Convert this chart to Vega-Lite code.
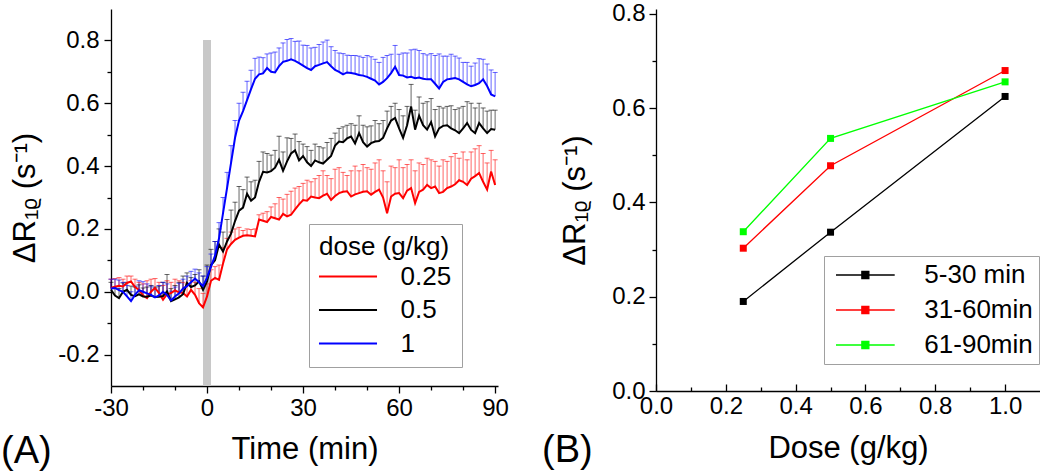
{
"$schema":"https://vega.github.io/schema/vega-lite/v6.json",
"autosize":{"type":"pad"},
"padding":{"left":1,"top":1,"right":0,"bottom":0},
"background":"white",
"bounds":"flush",
"spacing":158,
"resolve":{"scale":{"color":"independent"},"legend":{"color":"independent"}},
"config":{
 "font":"Liberation Sans",
 "view":{"stroke":null},
 "axis":{"labelFont":"Liberation Sans","titleFont":"Liberation Sans","labelFontSize":24,"titleFontSize":31,"titleFontWeight":"normal","labelColor":"black","titleColor":"black","domainColor":"black","tickColor":"black","domainWidth":1.3,"tickWidth":1.3,"grid":false,"labelFlush":false,"labelOverlap":false},
 "legend":{"labelFont":"Liberation Sans","titleFont":"Liberation Sans","labelFontSize":26,"titleFontSize":26,"titleFontWeight":"normal","labelColor":"black","titleColor":"black","strokeColor":"#a0a0a0","fillColor":"white","symbolOpacity":1}
},
"datasets":{
"ts":[
{"t":-30,"dose":"0.25","v":0.012,"hi":0.040},{"t":-28.75,"dose":"0.25","v":0.016,"hi":0.042},{"t":-27.5,"dose":"0.25","v":0.019,"hi":0.045},{"t":-26.25,"dose":"0.25","v":0.017,"hi":0.040},{"t":-25,"dose":"0.25","v":0.028,"hi":0.050},{"t":-23.75,"dose":"0.25","v":0.033,"hi":0.050},{"t":-22.5,"dose":"0.25","v":0.015,"hi":0.040},{"t":-21.25,"dose":"0.25","v":0.006,"hi":0.030},{"t":-20,"dose":"0.25","v":-0.012,"hi":0.025},{"t":-18.75,"dose":"0.25","v":-0.020,"hi":0.035},{"t":-17.5,"dose":"0.25","v":0.000,"hi":0.040},{"t":-16.25,"dose":"0.25","v":0.012,"hi":0.042},{"t":-15,"dose":"0.25","v":-0.004,"hi":0.030},{"t":-13.75,"dose":"0.25","v":-0.025,"hi":0.020},{"t":-12.5,"dose":"0.25","v":-0.008,"hi":0.035},{"t":-11.25,"dose":"0.25","v":-0.004,"hi":0.030},{"t":-10,"dose":"0.25","v":0.004,"hi":0.040},{"t":-8.75,"dose":"0.25","v":-0.002,"hi":0.035},{"t":-7.5,"dose":"0.25","v":-0.004,"hi":0.030},{"t":-6.25,"dose":"0.25","v":-0.015,"hi":0.025},{"t":-5,"dose":"0.25","v":0.006,"hi":0.035},{"t":-3.75,"dose":"0.25","v":-0.010,"hi":0.030},{"t":-2.5,"dose":"0.25","v":-0.036,"hi":0.010},{"t":-1.25,"dose":"0.25","v":-0.050,"hi":-0.005},{"t":0,"dose":"0.25","v":-0.015,"hi":0.025},{"t":1.25,"dose":"0.25","v":0.035,"hi":0.070},{"t":2.5,"dose":"0.25","v":0.044,"hi":0.080},{"t":3.75,"dose":"0.25","v":0.038,"hi":0.085},{"t":5,"dose":"0.25","v":0.090,"hi":0.140},{"t":6.25,"dose":"0.25","v":0.135,"hi":0.170},{"t":7.5,"dose":"0.25","v":0.152,"hi":0.190},{"t":8.75,"dose":"0.25","v":0.165,"hi":0.200},{"t":10,"dose":"0.25","v":0.172,"hi":0.205},{"t":11.25,"dose":"0.25","v":0.178,"hi":0.195},{"t":12.5,"dose":"0.25","v":0.180,"hi":0.200},{"t":13.75,"dose":"0.25","v":0.178,"hi":0.198},{"t":15,"dose":"0.25","v":0.176,"hi":0.200},{"t":16.25,"dose":"0.25","v":0.230,"hi":0.245},{"t":17.5,"dose":"0.25","v":0.226,"hi":0.250},{"t":18.75,"dose":"0.25","v":0.222,"hi":0.255},{"t":20,"dose":"0.25","v":0.238,"hi":0.270},{"t":21.25,"dose":"0.25","v":0.234,"hi":0.280},{"t":22.5,"dose":"0.25","v":0.230,"hi":0.300},{"t":23.75,"dose":"0.25","v":0.248,"hi":0.295},{"t":25,"dose":"0.25","v":0.240,"hi":0.310},{"t":26.25,"dose":"0.25","v":0.245,"hi":0.320},{"t":27.5,"dose":"0.25","v":0.262,"hi":0.330},{"t":28.75,"dose":"0.25","v":0.278,"hi":0.335},{"t":30,"dose":"0.25","v":0.292,"hi":0.345},{"t":31.25,"dose":"0.25","v":0.290,"hi":0.355},{"t":32.5,"dose":"0.25","v":0.303,"hi":0.350},{"t":33.75,"dose":"0.25","v":0.300,"hi":0.360},{"t":35,"dose":"0.25","v":0.298,"hi":0.370},{"t":36.25,"dose":"0.25","v":0.306,"hi":0.385},{"t":37.5,"dose":"0.25","v":0.312,"hi":0.370},{"t":38.75,"dose":"0.25","v":0.292,"hi":0.360},{"t":40,"dose":"0.25","v":0.305,"hi":0.390},{"t":41.25,"dose":"0.25","v":0.314,"hi":0.395},{"t":42.5,"dose":"0.25","v":0.318,"hi":0.380},{"t":43.75,"dose":"0.25","v":0.320,"hi":0.370},{"t":45,"dose":"0.25","v":0.303,"hi":0.385},{"t":46.25,"dose":"0.25","v":0.310,"hi":0.400},{"t":47.5,"dose":"0.25","v":0.314,"hi":0.385},{"t":48.75,"dose":"0.25","v":0.318,"hi":0.405},{"t":50,"dose":"0.25","v":0.320,"hi":0.395},{"t":51.25,"dose":"0.25","v":0.309,"hi":0.390},{"t":52.5,"dose":"0.25","v":0.318,"hi":0.410},{"t":53.75,"dose":"0.25","v":0.325,"hi":0.420},{"t":55,"dose":"0.25","v":0.300,"hi":0.385},{"t":56.25,"dose":"0.25","v":0.250,"hi":0.350},{"t":57.5,"dose":"0.25","v":0.303,"hi":0.400},{"t":58.75,"dose":"0.25","v":0.312,"hi":0.395},{"t":60,"dose":"0.25","v":0.314,"hi":0.420},{"t":61.25,"dose":"0.25","v":0.298,"hi":0.395},{"t":62.5,"dose":"0.25","v":0.322,"hi":0.405},{"t":63.75,"dose":"0.25","v":0.330,"hi":0.420},{"t":65,"dose":"0.25","v":0.282,"hi":0.385},{"t":66.25,"dose":"0.25","v":0.318,"hi":0.410},{"t":67.5,"dose":"0.25","v":0.325,"hi":0.405},{"t":68.75,"dose":"0.25","v":0.340,"hi":0.425},{"t":70,"dose":"0.25","v":0.330,"hi":0.420},{"t":71.25,"dose":"0.25","v":0.335,"hi":0.415},{"t":72.5,"dose":"0.25","v":0.314,"hi":0.400},{"t":73.75,"dose":"0.25","v":0.318,"hi":0.420},{"t":75,"dose":"0.25","v":0.330,"hi":0.415},{"t":76.25,"dose":"0.25","v":0.335,"hi":0.430},{"t":77.5,"dose":"0.25","v":0.342,"hi":0.440},{"t":78.75,"dose":"0.25","v":0.355,"hi":0.425},{"t":80,"dose":"0.25","v":0.350,"hi":0.445},{"t":81.25,"dose":"0.25","v":0.340,"hi":0.420},{"t":82.5,"dose":"0.25","v":0.360,"hi":0.445},{"t":83.75,"dose":"0.25","v":0.368,"hi":0.455},{"t":85,"dose":"0.25","v":0.378,"hi":0.465},{"t":86.25,"dose":"0.25","v":0.350,"hi":0.440},{"t":87.5,"dose":"0.25","v":0.325,"hi":0.410},{"t":88.75,"dose":"0.25","v":0.383,"hi":0.450},{"t":90,"dose":"0.25","v":0.340,"hi":0.420},
{"t":-30,"dose":"0.5","v":0.006,"hi":0.030},{"t":-28.75,"dose":"0.5","v":-0.012,"hi":0.015},{"t":-27.5,"dose":"0.5","v":-0.020,"hi":0.010},{"t":-26.25,"dose":"0.5","v":0.000,"hi":0.028},{"t":-25,"dose":"0.5","v":0.006,"hi":0.030},{"t":-23.75,"dose":"0.5","v":-0.010,"hi":0.018},{"t":-22.5,"dose":"0.5","v":-0.014,"hi":0.015},{"t":-21.25,"dose":"0.5","v":-0.008,"hi":0.022},{"t":-20,"dose":"0.5","v":-0.015,"hi":0.012},{"t":-18.75,"dose":"0.5","v":-0.016,"hi":0.015},{"t":-17.5,"dose":"0.5","v":-0.012,"hi":0.020},{"t":-16.25,"dose":"0.5","v":-0.017,"hi":0.015},{"t":-15,"dose":"0.5","v":-0.016,"hi":0.018},{"t":-13.75,"dose":"0.5","v":-0.014,"hi":0.030},{"t":-12.5,"dose":"0.5","v":0.001,"hi":0.055},{"t":-11.25,"dose":"0.5","v":-0.030,"hi":0.010},{"t":-10,"dose":"0.5","v":-0.024,"hi":0.020},{"t":-8.75,"dose":"0.5","v":-0.018,"hi":0.030},{"t":-7.5,"dose":"0.5","v":-0.008,"hi":0.050},{"t":-6.25,"dose":"0.5","v":0.028,"hi":0.060},{"t":-5,"dose":"0.5","v":0.015,"hi":0.045},{"t":-3.75,"dose":"0.5","v":0.020,"hi":0.055},{"t":-2.5,"dose":"0.5","v":0.033,"hi":0.070},{"t":-1.25,"dose":"0.5","v":0.006,"hi":0.050},{"t":0,"dose":"0.5","v":0.033,"hi":0.085},{"t":1.25,"dose":"0.5","v":0.085,"hi":0.135},{"t":2.5,"dose":"0.5","v":0.100,"hi":0.160},{"t":3.75,"dose":"0.5","v":0.150,"hi":0.200},{"t":5,"dose":"0.5","v":0.128,"hi":0.190},{"t":6.25,"dose":"0.5","v":0.160,"hi":0.230},{"t":7.5,"dose":"0.5","v":0.185,"hi":0.260},{"t":8.75,"dose":"0.5","v":0.225,"hi":0.285},{"t":10,"dose":"0.5","v":0.258,"hi":0.335},{"t":11.25,"dose":"0.5","v":0.268,"hi":0.325},{"t":12.5,"dose":"0.5","v":0.312,"hi":0.365},{"t":13.75,"dose":"0.5","v":0.290,"hi":0.350},{"t":15,"dose":"0.5","v":0.300,"hi":0.355},{"t":16.25,"dose":"0.5","v":0.350,"hi":0.415},{"t":17.5,"dose":"0.5","v":0.382,"hi":0.445},{"t":18.75,"dose":"0.5","v":0.380,"hi":0.440},{"t":20,"dose":"0.5","v":0.384,"hi":0.435},{"t":21.25,"dose":"0.5","v":0.395,"hi":0.450},{"t":22.5,"dose":"0.5","v":0.420,"hi":0.495},{"t":23.75,"dose":"0.5","v":0.385,"hi":0.445},{"t":25,"dose":"0.5","v":0.415,"hi":0.490},{"t":26.25,"dose":"0.5","v":0.440,"hi":0.488},{"t":27.5,"dose":"0.5","v":0.450,"hi":0.502},{"t":28.75,"dose":"0.5","v":0.418,"hi":0.478},{"t":30,"dose":"0.5","v":0.432,"hi":0.470},{"t":31.25,"dose":"0.5","v":0.412,"hi":0.462},{"t":32.5,"dose":"0.5","v":0.400,"hi":0.450},{"t":33.75,"dose":"0.5","v":0.418,"hi":0.470},{"t":35,"dose":"0.5","v":0.412,"hi":0.462},{"t":36.25,"dose":"0.5","v":0.408,"hi":0.458},{"t":37.5,"dose":"0.5","v":0.420,"hi":0.475},{"t":38.75,"dose":"0.5","v":0.432,"hi":0.488},{"t":40,"dose":"0.5","v":0.465,"hi":0.505},{"t":41.25,"dose":"0.5","v":0.478,"hi":0.520},{"t":42.5,"dose":"0.5","v":0.476,"hi":0.525},{"t":43.75,"dose":"0.5","v":0.488,"hi":0.530},{"t":45,"dose":"0.5","v":0.494,"hi":0.535},{"t":46.25,"dose":"0.5","v":0.472,"hi":0.530},{"t":47.5,"dose":"0.5","v":0.505,"hi":0.560},{"t":48.75,"dose":"0.5","v":0.476,"hi":0.530},{"t":50,"dose":"0.5","v":0.462,"hi":0.525},{"t":51.25,"dose":"0.5","v":0.473,"hi":0.528},{"t":52.5,"dose":"0.5","v":0.478,"hi":0.545},{"t":53.75,"dose":"0.5","v":0.480,"hi":0.535},{"t":55,"dose":"0.5","v":0.490,"hi":0.545},{"t":56.25,"dose":"0.5","v":0.520,"hi":0.575},{"t":57.5,"dose":"0.5","v":0.545,"hi":0.590},{"t":58.75,"dose":"0.5","v":0.553,"hi":0.600},{"t":60,"dose":"0.5","v":0.520,"hi":0.580},{"t":61.25,"dose":"0.5","v":0.490,"hi":0.560},{"t":62.5,"dose":"0.5","v":0.530,"hi":0.590},{"t":63.75,"dose":"0.5","v":0.590,"hi":0.660},{"t":65,"dose":"0.5","v":0.516,"hi":0.578},{"t":66.25,"dose":"0.5","v":0.560,"hi":0.620},{"t":67.5,"dose":"0.5","v":0.530,"hi":0.600},{"t":68.75,"dose":"0.5","v":0.516,"hi":0.605},{"t":70,"dose":"0.5","v":0.540,"hi":0.615},{"t":71.25,"dose":"0.5","v":0.494,"hi":0.580},{"t":72.5,"dose":"0.5","v":0.520,"hi":0.590},{"t":73.75,"dose":"0.5","v":0.528,"hi":0.585},{"t":75,"dose":"0.5","v":0.530,"hi":0.590},{"t":76.25,"dose":"0.5","v":0.520,"hi":0.592},{"t":77.5,"dose":"0.5","v":0.514,"hi":0.580},{"t":78.75,"dose":"0.5","v":0.505,"hi":0.585},{"t":80,"dose":"0.5","v":0.520,"hi":0.590},{"t":81.25,"dose":"0.5","v":0.537,"hi":0.605},{"t":82.5,"dose":"0.5","v":0.515,"hi":0.600},{"t":83.75,"dose":"0.5","v":0.505,"hi":0.585},{"t":85,"dose":"0.5","v":0.537,"hi":0.600},{"t":86.25,"dose":"0.5","v":0.520,"hi":0.585},{"t":87.5,"dose":"0.5","v":0.505,"hi":0.575},{"t":88.75,"dose":"0.5","v":0.518,"hi":0.578},{"t":90,"dose":"0.5","v":0.516,"hi":0.578},
{"t":-30,"dose":"1","v":0.010,"hi":0.040},{"t":-28.75,"dose":"1","v":0.012,"hi":0.040},{"t":-27.5,"dose":"1","v":0.005,"hi":0.037},{"t":-26.25,"dose":"1","v":0.000,"hi":0.030},{"t":-25,"dose":"1","v":-0.015,"hi":0.020},{"t":-23.75,"dose":"1","v":-0.030,"hi":0.000},{"t":-22.5,"dose":"1","v":-0.010,"hi":0.018},{"t":-21.25,"dose":"1","v":0.005,"hi":0.035},{"t":-20,"dose":"1","v":0.000,"hi":0.032},{"t":-18.75,"dose":"1","v":-0.005,"hi":0.025},{"t":-17.5,"dose":"1","v":-0.010,"hi":0.018},{"t":-16.25,"dose":"1","v":-0.018,"hi":0.012},{"t":-15,"dose":"1","v":-0.012,"hi":0.020},{"t":-13.75,"dose":"1","v":0.000,"hi":0.030},{"t":-12.5,"dose":"1","v":-0.010,"hi":0.025},{"t":-11.25,"dose":"1","v":-0.028,"hi":0.002},{"t":-10,"dose":"1","v":-0.015,"hi":0.015},{"t":-8.75,"dose":"1","v":-0.005,"hi":0.027},{"t":-7.5,"dose":"1","v":0.010,"hi":0.040},{"t":-6.25,"dose":"1","v":0.018,"hi":0.050},{"t":-5,"dose":"1","v":0.030,"hi":0.065},{"t":-3.75,"dose":"1","v":0.042,"hi":0.072},{"t":-2.5,"dose":"1","v":0.030,"hi":0.060},{"t":-1.25,"dose":"1","v":0.018,"hi":0.050},{"t":0,"dose":"1","v":0.045,"hi":0.080},{"t":1.25,"dose":"1","v":0.080,"hi":0.120},{"t":2.5,"dose":"1","v":0.115,"hi":0.160},{"t":3.75,"dose":"1","v":0.170,"hi":0.220},{"t":5,"dose":"1","v":0.250,"hi":0.300},{"t":6.25,"dose":"1","v":0.330,"hi":0.380},{"t":7.5,"dose":"1","v":0.410,"hi":0.465},{"t":8.75,"dose":"1","v":0.490,"hi":0.545},{"t":10,"dose":"1","v":0.545,"hi":0.600},{"t":11.25,"dose":"1","v":0.575,"hi":0.635},{"t":12.5,"dose":"1","v":0.610,"hi":0.670},{"t":13.75,"dose":"1","v":0.645,"hi":0.705},{"t":15,"dose":"1","v":0.678,"hi":0.743},{"t":16.25,"dose":"1","v":0.692,"hi":0.747},{"t":17.5,"dose":"1","v":0.695,"hi":0.745},{"t":18.75,"dose":"1","v":0.712,"hi":0.757},{"t":20,"dose":"1","v":0.700,"hi":0.760},{"t":21.25,"dose":"1","v":0.698,"hi":0.763},{"t":22.5,"dose":"1","v":0.718,"hi":0.776},{"t":23.75,"dose":"1","v":0.732,"hi":0.792},{"t":25,"dose":"1","v":0.735,"hi":0.803},{"t":26.25,"dose":"1","v":0.740,"hi":0.806},{"t":27.5,"dose":"1","v":0.735,"hi":0.797},{"t":28.75,"dose":"1","v":0.728,"hi":0.798},{"t":30,"dose":"1","v":0.720,"hi":0.785},{"t":31.25,"dose":"1","v":0.712,"hi":0.784},{"t":32.5,"dose":"1","v":0.706,"hi":0.776},{"t":33.75,"dose":"1","v":0.718,"hi":0.778},{"t":35,"dose":"1","v":0.722,"hi":0.787},{"t":36.25,"dose":"1","v":0.727,"hi":0.795},{"t":37.5,"dose":"1","v":0.731,"hi":0.801},{"t":38.75,"dose":"1","v":0.718,"hi":0.780},{"t":40,"dose":"1","v":0.706,"hi":0.768},{"t":41.25,"dose":"1","v":0.700,"hi":0.760},{"t":42.5,"dose":"1","v":0.692,"hi":0.758},{"t":43.75,"dose":"1","v":0.698,"hi":0.753},{"t":45,"dose":"1","v":0.696,"hi":0.752},{"t":46.25,"dose":"1","v":0.694,"hi":0.752},{"t":47.5,"dose":"1","v":0.690,"hi":0.750},{"t":48.75,"dose":"1","v":0.688,"hi":0.746},{"t":50,"dose":"1","v":0.684,"hi":0.752},{"t":51.25,"dose":"1","v":0.678,"hi":0.748},{"t":52.5,"dose":"1","v":0.672,"hi":0.740},{"t":53.75,"dose":"1","v":0.660,"hi":0.730},{"t":55,"dose":"1","v":0.668,"hi":0.746},{"t":56.25,"dose":"1","v":0.680,"hi":0.752},{"t":57.5,"dose":"1","v":0.696,"hi":0.756},{"t":58.75,"dose":"1","v":0.716,"hi":0.784},{"t":60,"dose":"1","v":0.690,"hi":0.756},{"t":61.25,"dose":"1","v":0.688,"hi":0.760},{"t":62.5,"dose":"1","v":0.682,"hi":0.760},{"t":63.75,"dose":"1","v":0.684,"hi":0.770},{"t":65,"dose":"1","v":0.680,"hi":0.772},{"t":66.25,"dose":"1","v":0.682,"hi":0.768},{"t":67.5,"dose":"1","v":0.678,"hi":0.758},{"t":68.75,"dose":"1","v":0.676,"hi":0.754},{"t":70,"dose":"1","v":0.676,"hi":0.758},{"t":71.25,"dose":"1","v":0.662,"hi":0.752},{"t":72.5,"dose":"1","v":0.647,"hi":0.757},{"t":73.75,"dose":"1","v":0.668,"hi":0.750},{"t":75,"dose":"1","v":0.676,"hi":0.750},{"t":76.25,"dose":"1","v":0.678,"hi":0.756},{"t":77.5,"dose":"1","v":0.680,"hi":0.750},{"t":78.75,"dose":"1","v":0.676,"hi":0.744},{"t":80,"dose":"1","v":0.668,"hi":0.730},{"t":81.25,"dose":"1","v":0.660,"hi":0.730},{"t":82.5,"dose":"1","v":0.654,"hi":0.718},{"t":83.75,"dose":"1","v":0.658,"hi":0.728},{"t":85,"dose":"1","v":0.664,"hi":0.742},{"t":86.25,"dose":"1","v":0.676,"hi":0.740},{"t":87.5,"dose":"1","v":0.655,"hi":0.725},{"t":88.75,"dose":"1","v":0.628,"hi":0.706},{"t":90,"dose":"1","v":0.622,"hi":0.698}
],
"dr":[
{"dose":0.25,"win":"5-30 min","v":0.190},{"dose":0.5,"win":"5-30 min","v":0.337},{"dose":1.0,"win":"5-30 min","v":0.625},
{"dose":0.25,"win":"31-60min","v":0.303},{"dose":0.5,"win":"31-60min","v":0.478},{"dose":1.0,"win":"31-60min","v":0.680},
{"dose":0.25,"win":"61-90min","v":0.338},{"dose":0.5,"win":"61-90min","v":0.536},{"dose":1.0,"win":"61-90min","v":0.656}
]
},
"hconcat":[
{
 "width":387,"height":377,
 "title":{"text":"(A)","orient":"bottom","anchor":"start","frame":"group","dx":-110,"offset":-31,"fontSize":38,"fontWeight":"normal","font":"Liberation Sans","color":"black"},
 "data":{"name":"ts"},
 "encoding":{
  "x":{"field":"t","type":"quantitative","title":"Time (min)",
   "scale":{"domain":[-30,90.9],"nice":false,"zero":false},
   "axis":{"values":[-30,-20,-10,0,10,20,30,40,50,60,70,80,90],
    "labelExpr":"datum.value % 30 === 0 ? '' + datum.value : ''",
    "tickSize":{"condition":{"test":"datum.value % 30 === 0","value":7},"value":4},
    "labelPadding":3,"titlePadding":14}},
  "y":{"field":"v","type":"quantitative","title":"ΔR₁ᵨ (s⁻¹)",
   "scale":{"domain":[-0.3,0.9],"nice":false,"zero":false},
   "axis":{"values":[-0.2,-0.1,0,0.1,0.2,0.3,0.4,0.5,0.6,0.7,0.8],
    "labelExpr":"abs(round(datum.value*10)) % 2 === 0 ? replace(format(datum.value,'.1f'),'−','-') : ''",
    "tickSize":{"condition":{"test":"abs(round(datum.value*10)) % 2 === 0","value":7},"value":4},
    "labelPadding":5,"titlePadding":16}}
 },
 "layer":[
  {"mark":{"type":"rect","color":"#c8c8c8"},
   "encoding":{"x":{"datum":-1.2,"type":"quantitative","title":"Time (min)"},"x2":{"datum":1.2},"y":{"datum":-0.3,"type":"quantitative","title":"ΔR₁ᵨ (s⁻¹)"},"y2":{"datum":0.8}}},
  {"mark":{"type":"rule","strokeWidth":1,"opacity":0.6},
   "encoding":{"y2":{"field":"hi"},
    "color":{"field":"dose","type":"nominal","scale":{"domain":["0.25","0.5","1"],"range":["#ff0000","#000000","#0000ff"]},
     "legend":{"title":"dose (g/kg)","orient":"none","legendX":198,"legendY":215,"symbolType":"M-2.35,0H2.35","symbolSize":610,"symbolStrokeWidth":2,"symbolOffset":15.5,"labelOffset":39,"padding":10,"rowPadding":6.5,"titlePadding":3}}}},
  {"mark":{"type":"tick","orient":"horizontal","size":5,"thickness":1,"opacity":0.6},
   "encoding":{"y":{"field":"hi","type":"quantitative","title":"ΔR₁ᵨ (s⁻¹)"},
    "color":{"field":"dose","type":"nominal","scale":{"domain":["0.25","0.5","1"],"range":["#ff0000","#000000","#0000ff"]},
     "legend":{"title":"dose (g/kg)","orient":"none","legendX":198,"legendY":215,"symbolType":"M-2.35,0H2.35","symbolSize":610,"symbolStrokeWidth":2,"symbolOffset":15.5,"labelOffset":39,"padding":10,"rowPadding":6.5,"titlePadding":3}}}},
  {"mark":{"type":"line","strokeWidth":2},
   "encoding":{
    "color":{"field":"dose","type":"nominal","scale":{"domain":["0.25","0.5","1"],"range":["#ff0000","#000000","#0000ff"]},
     "legend":{"title":"dose (g/kg)","orient":"none","legendX":198,"legendY":215,"symbolType":"M-2.35,0H2.35","symbolSize":610,"symbolStrokeWidth":2,"symbolOffset":15.5,"labelOffset":39,"padding":10,"rowPadding":6.5,"titlePadding":3}}}}
 ]
},
{
 "width":384,"height":382,
 "title":{"text":"(B)","orient":"bottom","anchor":"start","frame":"group","dx":-114,"offset":-31,"fontSize":38,"fontWeight":"normal","font":"Liberation Sans","color":"black"},
 "data":{"name":"dr"},
 "encoding":{
  "x":{"field":"dose","type":"quantitative","title":"Dose (g/kg)",
   "scale":{"domain":[0,1.1],"nice":false,"zero":false},
   "axis":{"values":[0,0.1,0.2,0.3,0.4,0.5,0.6,0.7,0.8,0.9,1.0],
    "labelExpr":"abs(round(datum.value*10)) % 2 === 0 ? format(datum.value,'.1f') : ''",
    "tickSize":{"condition":{"test":"abs(round(datum.value*10)) % 2 === 0","value":-7},"value":-4},
    "labelPadding":10,"titlePadding":12}},
  "y":{"field":"v","type":"quantitative","title":"ΔR₁ᵨ (s⁻¹)",
   "scale":{"domain":[0,0.8106],"nice":false,"zero":false},
   "axis":{"values":[0,0.1,0.2,0.3,0.4,0.5,0.6,0.7,0.8],
    "labelExpr":"abs(round(datum.value*10)) % 2 === 0 ? format(datum.value,'.1f') : ''",
    "tickSize":{"condition":{"test":"abs(round(datum.value*10)) % 2 === 0","value":7},"value":4},
    "labelPadding":4,"titlePadding":20}}
 },
 "layer":[
  {"mark":{"type":"line","strokeWidth":1.3},
   "encoding":{"color":{"field":"win","type":"nominal","scale":{"domain":["5-30 min","31-60min","61-90min"],"range":["#000000","#ff0000","#00ff00"]},
    "legend":{"title":null,"orient":"none","legendX":168,"legendY":247,"symbolType":"M-2.377,0H2.377M-0.283,-0.283H0.283V0.283H-0.283Z","symbolSize":610,"symbolStrokeWidth":1.3,"symbolOffset":22.35,"labelOffset":46,"padding":6,"rowPadding":9,
     "labelExpr":"datum.label + ' '",
     "encode":{"symbols":{"update":{"fill":{"signal":"datum.value === '5-30 min' ? '#000000' : datum.value === '31-60min' ? '#ff0000' : '#00ff00'"}}}}}}}},
  {"mark":{"type":"point","shape":"square","filled":true,"size":49,"opacity":1},
   "encoding":{"color":{"field":"win","type":"nominal","scale":{"domain":["5-30 min","31-60min","61-90min"],"range":["#000000","#ff0000","#00ff00"]},"legend":null}}}
 ]
}
]
}
